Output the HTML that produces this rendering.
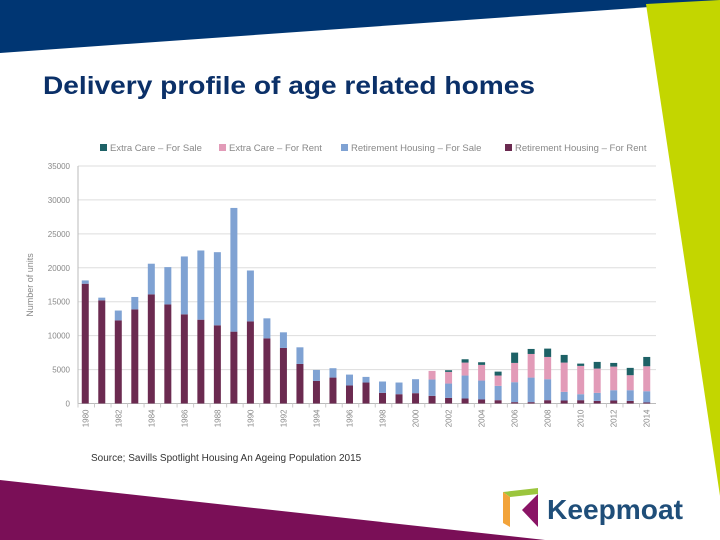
<!DOCTYPE html>
<html><head><meta charset="utf-8"><style>
html,body{margin:0;padding:0;background:#fff;}
svg{display:block;font-family:"Liberation Sans",sans-serif;}
</style></head><body>
<svg id="chart" width="720" height="540" viewBox="0 0 720 540" xmlns="http://www.w3.org/2000/svg">
<polygon points="0,0 720,0 720,2 0,53" fill="#003673"/>
<polygon points="646,4 720,0 720,496" fill="#c3d600"/>
<polygon points="0,480 545,540 0,540" fill="#7a0f57"/>
<text x="43" y="94" font-size="25" font-weight="bold" fill="#0b3068" textLength="492" lengthAdjust="spacingAndGlyphs">Delivery profile of age related homes</text>
<g id="grid"></g>
<g id="bars"></g>
<g id="axes"></g>
<g id="legend"></g>
<text transform="translate(33,285) rotate(-90)" text-anchor="middle" font-size="9" fill="#888">Number of units</text>
<text x="91" y="461" font-size="10" fill="#333">Source; Savills Spotlight Housing An Ageing Population 2015</text>
<g>
<polygon points="503,492 538,488 538,494 510,497" fill="#9bc53d"/>
<polygon points="503,492 510,497 510,527 503,523" fill="#f2a33a"/>
<polygon points="538,494 538,527 522,510" fill="#8a1465"/>
<text x="547" y="519" font-size="28" font-weight="bold" fill="#1f4e79" textLength="136" lengthAdjust="spacingAndGlyphs">Keepmoat</text>
</g>
</svg>
<script>
const years=[];for(let y=1980;y<=2014;y++)years.push(y);
const rhRent=[17650,15200,12250,13870,16080,14600,13140,12350,11520,10590,12100,9600,8190,5830,3330,3820,2650,3090,1570,1370,1520,1130,830,735,590,490,200,200,490,440,490,390,440,390,150];
const rhSale=[490,400,1450,1830,4520,5500,8530,10200,10780,18230,7500,2950,2300,2450,1620,1380,1610,830,1670,1720,2060,2400,2110,3385,2790,2110,2940,3620,3090,1280,880,1180,1520,1570,1660];
const ecRent=[0,0,0,0,0,0,0,0,0,0,0,0,0,0,0,0,0,0,0,0,0,1270,1720,1910,2310,1520,2840,3480,3280,4310,4170,3580,3480,2210,3680];
const ecSale=[0,0,0,0,0,0,0,0,0,0,0,0,0,0,0,0,0,0,0,0,0,0,240,490,390,580,1520,740,1230,1130,340,980,540,1080,1370];
const yTicks=[0,5000,10000,15000,20000,25000,30000,35000];
const series=[["Retirement Housing – For Rent",rhRent,"#6b2a50"],["Retirement Housing – For Sale",rhSale,"#7fa2d3"],["Extra Care – For Rent",ecRent,"#e29bb8"],["Extra Care – For Sale",ecSale,"#1d6166"]];
const NS="http://www.w3.org/2000/svg";
const x0=78,x1=656,y0=403.5,yTop=166;
const yS=v=>y0-(v/35000)*(y0-yTop);
const step=(x1-x0)/years.length;
const xC=i=>x0+step*(i+0.5)-1;
function mk(t,a,p){const e=document.createElementNS(NS,t);for(const k in a)e.setAttribute(k,a[k]);p.appendChild(e);return e;}
const grid=document.getElementById('grid'),bars=document.getElementById('bars'),axes=document.getElementById('axes'),legend=document.getElementById('legend');
yTicks.forEach(v=>{
 const l=mk('line',{x1:x0,x2:x1,y1:yS(v),y2:yS(v),stroke:v===0?'#bbb':'#ddd','stroke-width':1},grid);
 
 
 const t=mk('text',{x:70,y:yS(v)+3,'text-anchor':'end','font-size':8,fill:'#888'},axes);
 t.textContent=v;
 
 
});
mk('line',{x1:x0,x2:x0,y1:yTop,y2:y0,stroke:'#bbb'},axes);
years.forEach((yr,i)=>{
 let acc=0;
 series.forEach(s=>{
  const v=s[1][i];if(!v)return;
  const r=mk('rect',{x:xC(i)-3.5,width:7,y:yS(acc+v),height:yS(acc)-yS(acc+v),fill:s[2]},bars);
  
  
  acc+=v;
 });
 if(i%2===0){
  const t=mk('text',{transform:`translate(${xC(i)+3},${y0+6}) rotate(-90)`,'text-anchor':'end','font-size':8,fill:'#888'},axes);
  t.textContent=yr;
  
  
 }
 mk('line',{x1:x0+step*i,x2:x0+step*i,y1:y0,y2:y0+4,stroke:'#ccc'},axes);
});
const leg=[["Extra Care – For Sale","#1d6166",100],["Extra Care – For Rent","#e29bb8",219],["Retirement Housing – For Sale","#7fa2d3",341],["Retirement Housing – For Rent","#6b2a50",505]];
leg.forEach(l=>{
 const g=mk('g',{},legend);
 
 
 mk('rect',{x:l[2],y:144,width:7,height:7,fill:l[1]},g);
 const t=mk('text',{x:l[2]+10,y:151,'font-size':9.5,fill:'#888'},g);
 t.textContent=l[0];
});
</script>
</body></html>
